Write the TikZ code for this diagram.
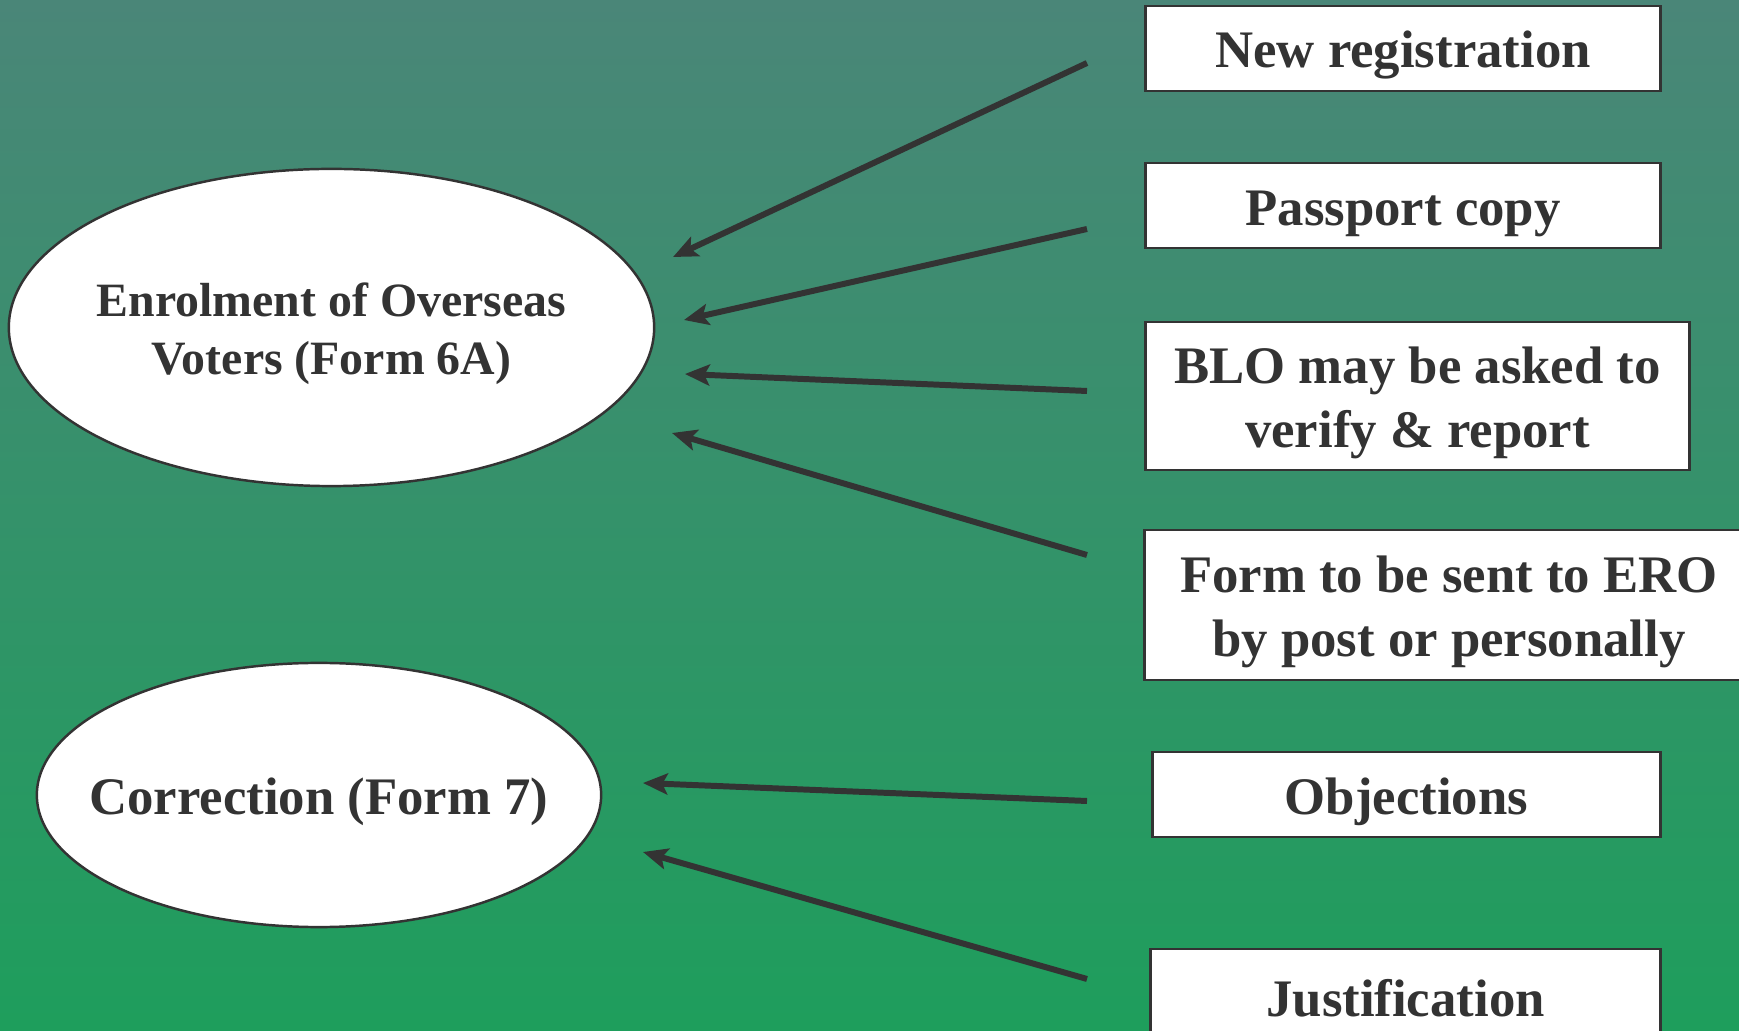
\documentclass[tikz,border=0pt]{standalone}
\usepackage{fontspec}
\setmainfont{Liberation Serif}
\usepackage{tikz}
\usetikzlibrary{shapes.geometric, arrows.meta}

\definecolor{ink}{RGB}{51,51,51}
\definecolor{bgtop}{RGB}{74,134,120}
\definecolor{bgbottom}{RGB}{30,158,92}

% invisible strut that drops the first text line a little
\newcommand{\droptext}{\rule{0pt}{0.96em}}

\begin{document}
\begin{tikzpicture}[x=0.01cm, y=-0.01cm,
    formbox/.style={draw=ink, line width=0.8pt, fill=white, text=ink, inner sep=0pt,
      align=center, font=\fontsize{15}{18}\selectfont\bfseries},
    formoval/.style={ellipse, draw=ink, line width=0.7pt, fill=white, text=ink, inner ysep=0pt,
      inner xsep=-0.4cm, align=center},
    feed/.style={draw=ink, line width=1.7pt, -{Stealth[length=7pt, width=6pt, inset=1.5pt]}}]
			\useasboundingbox (0,0) rectangle (1739,1031);
			\clip (0,0) rectangle (1739,1031);
			\shade[top color=bgtop, bottom color=bgbottom] (0,0) rectangle (1739,1031);

			\node[formoval, minimum width=6.45cm, minimum height=3.17cm,
			  font=\fontsize{13.6}{16.5}\selectfont\bfseries] (enrol) at (331.5, 327.5)
			  {\droptext Enrolment of Overseas\\Voters (Form 6A)};
			\node[formoval, minimum width=5.64cm, minimum height=2.64cm,
			  font=\fontsize{15}{18}\selectfont\bfseries] (correct) at (319, 795) {\droptext Correction (Form 7)};

			\node[formbox, minimum width=5.14cm, minimum height=0.85cm] (newreg) at (1403, 48.5) {\droptext New registration};
			\node[formbox, minimum width=5.14cm, minimum height=0.85cm] (passport) at (1403, 205.5) {\droptext Passport copy};
			\node[formbox, minimum width=5.43cm, minimum height=1.48cm] (blo) at (1417.5, 396) {\droptext BLO may be asked to\\verify \& report};
			\node[formbox, minimum width=6.08cm, minimum height=1.5cm] (post) at (1449, 605) {\droptext Form to be sent to ERO\\by post or personally};
			\node[formbox, minimum width=5.07cm, minimum height=0.85cm] (objection) at (1406.5, 794.5) {\droptext Objections};
			\node[formbox, minimum width=5.09cm, minimum height=0.85cm] (justify) at (1405.5, 991.5) {\droptext Justification};

			% arrow tails, left of the boxes
			\coordinate (newreg-in) at (1087, 63);
			\coordinate (passport-in) at (1087, 229);
			\coordinate (blo-in) at (1087, 391);
			\coordinate (post-in) at (1087, 555);
			\coordinate (objection-in) at (1087, 801);
			\coordinate (justify-in) at (1087, 979);

			% arrow tips, right of the ellipses
			\coordinate (enrol-a) at (673, 257);
			\coordinate (enrol-b) at (684, 320);
			\coordinate (enrol-c) at (685, 374);
			\coordinate (enrol-d) at (672, 433);
			\coordinate (correct-a) at (643, 783);
			\coordinate (correct-b) at (643, 852);

			\draw[feed] (newreg-in) -- (enrol-a);
			\draw[feed] (passport-in) -- (enrol-b);
			\draw[feed] (blo-in) -- (enrol-c);
			\draw[feed] (post-in) -- (enrol-d);
			\draw[feed] (objection-in) -- (correct-a);
			\draw[feed] (justify-in) -- (correct-b);
		\end{tikzpicture}
\end{document}
